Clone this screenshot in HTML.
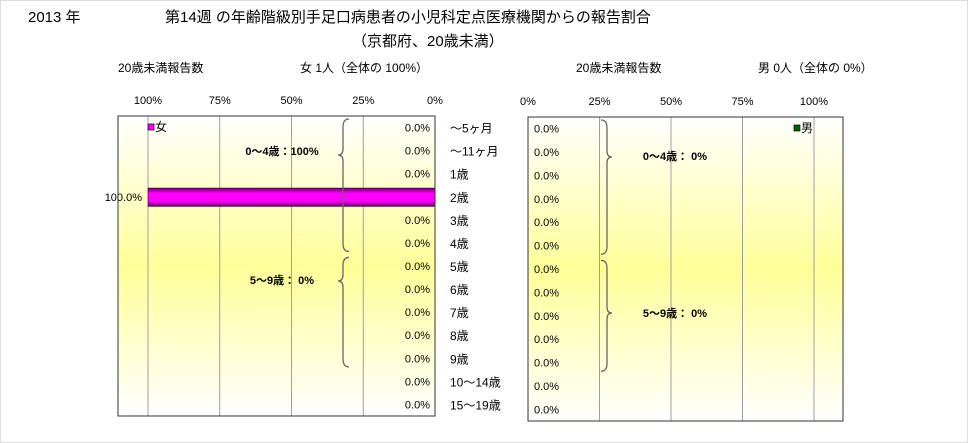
<!DOCTYPE html>
<html><head><meta charset="utf-8">
<style>
body{margin:0;background:#fff;}
svg{display:block;font-family:"Liberation Sans","Noto Sans CJK JP",sans-serif;}
</style></head>
<body>
<svg id="c" width="968" height="443" viewBox="0 0 968 443">
<defs>
<linearGradient id="bg" x1="0" y1="0" x2="0" y2="1">
<stop offset="0" stop-color="#ffffff"/><stop offset="0.5" stop-color="#ffff99"/><stop offset="1" stop-color="#ffffff"/>
</linearGradient>
<linearGradient id="barg" x1="0" y1="0" x2="0" y2="1">
<stop offset="0" stop-color="#660066"/><stop offset="0.3" stop-color="#ff00ff"/><stop offset="0.7" stop-color="#ff00ff"/><stop offset="1" stop-color="#660066"/>
</linearGradient>
</defs>
<rect x="0.5" y="0.5" width="967" height="442" fill="#fff" stroke="#ddd"/>
<text x="28" y="22" font-size="15" fill="#000">2013 年</text>
<text x="165" y="22" font-size="15" fill="#000">第14週 の年齢階級別手足口病患者の小児科定点医療機関からの報告割合</text>
<text x="352" y="46" font-size="15" fill="#000">（京都府、20歳未満）</text>
<text x="118" y="72" font-size="12">20歳未満報告数</text>
<text x="300" y="72" font-size="12">女  1人（全体の  100%）</text>
<text x="576" y="72" font-size="12">20歳未満報告数</text>
<text x="758" y="72" font-size="12">男  0人（全体の  0%）</text>
<g id="left"></g>
<g id="right"></g>
</svg>
<script>
const categories=["～5ヶ月","～11ヶ月","1歳","2歳","3歳","4歳","5歳","6歳","7歳","8歳","9歳","10～14歳","15～19歳"];
const femaleValues=[0,0,0,100,0,0,0,0,0,0,0,0,0];
const maleValues=[0,0,0,0,0,0,0,0,0,0,0,0,0];
const tickValues=[0,25,50,75,100];
const tickLabels=["0%","25%","50%","75%","100%"];
const groupLabelsF=["0～4歳：100%","5～9歳：  0%"];
const groupLabelsM=["0～4歳：  0%","5～9歳：  0%"];
const NS="http://www.w3.org/2000/svg";
function mk(p,t,a,txt){const e=document.createElementNS(NS,t);for(const k in a)e.setAttribute(k,a[k]);if(txt!==undefined)e.textContent=txt;p.appendChild(e);return e;}
function fmt(v){return v.toFixed(1)+"%";}
function panel(g,cfg){
  const n=categories.length;
  const rowH=(cfg.bottom-cfg.top)/n;
  const x=v=>cfg.x0+(cfg.x100-cfg.x0)*v/100;
  const y=i=>cfg.top+rowH*i;
  let r=mk(g,"rect",{x:cfg.left,y:cfg.top,width:cfg.right-cfg.left,height:cfg.bottom-cfg.top,fill:"url(#bg)"});
  
  
  tickValues.forEach((v,i)=>{
    const l=mk(g,"line",{x1:x(v),x2:x(v),y1:cfg.top,y2:cfg.bottom,stroke:"#a0a0a0"});
    
    
    const t=mk(g,"text",{x:x(v),y:cfg.top-12,"font-size":11,"text-anchor":"middle"},tickLabels[i]);
    
    
  });
  cfg.values.forEach((v,i)=>{
    if(v>0){
      const b=mk(g,"rect",{x:Math.min(x(0),x(v)),y:y(i)+rowH*0.12,width:Math.abs(x(v)-x(0)),height:rowH*0.8,fill:"url(#barg)",stroke:"#330033","stroke-width":0.5});
      
      
    }
    const lx=v>0?cfg.outX:cfg.valX;
    const t=mk(g,"text",{x:lx,y:y(i)+rowH/2+4,"font-size":11,"text-anchor":cfg.anchor},fmt(v));
    
    
  });
  mk(g,"rect",{x:cfg.left,y:cfg.top,width:cfg.right-cfg.left,height:cfg.bottom-cfg.top,fill:"none",stroke:"#333"});
  [[0,6],[6,11]].forEach((rg,k)=>{
    const y1=y(rg[0])+3,y2=y(rg[1])-3,ym=cfg.tips[k],bx=cfg.braceX,d=cfg.braceDir;
    const p=mk(g,"path",{d:`M${bx+6*d},${y1} Q${bx},${y1} ${bx},${y1+8} L${bx},${ym-6} Q${bx},${ym} ${bx-5*d},${ym} Q${bx},${ym} ${bx},${ym+6} L${bx},${y2-8} Q${bx},${y2} ${bx+6*d},${y2}`,fill:"none",stroke:"#666","stroke-width":1.3});
    
    
    const t=mk(g,"text",{x:cfg.groupX,y:cfg.labelY[k]+4,"font-size":11,"font-weight":"bold","text-anchor":"middle"},cfg.groups[k]);
    
    
  });
  if(cfg.cats){
    categories.forEach((c,i)=>{
      const t=mk(g,"text",{x:450,y:y(i)+rowH/2+5,"font-size":12},c);
      
      
    });
  }
  const lg=mk(g,"rect",{x:cfg.legX,y:cfg.top+8,width:6,height:6,fill:cfg.legColor,stroke:"#000","stroke-width":0.7});
  
  
  const lt=mk(g,"text",{x:cfg.legX+7,y:cfg.top+15,"font-size":12},cfg.legText);
  
  
}
panel(document.getElementById("left"),{left:118,right:435,top:116,bottom:416,x0:435,x100:148,values:femaleValues,valX:430,outX:142,anchor:"end",braceX:343,braceDir:1,groupX:282,groups:groupLabelsF,tips:[155,281],labelY:[151,280],cats:true,legX:148,legColor:"#ff00ff",legText:"女"});
panel(document.getElementById("right"),{left:528,right:843,top:117,bottom:421,x0:528,x100:814,values:maleValues,valX:534,outX:534,anchor:"start",braceX:607,braceDir:-1,groupX:675,groups:groupLabelsM,tips:[157,313],labelY:[156,313],cats:false,legX:794,legColor:"#006600",legText:"男"});
</script>
</body></html>
